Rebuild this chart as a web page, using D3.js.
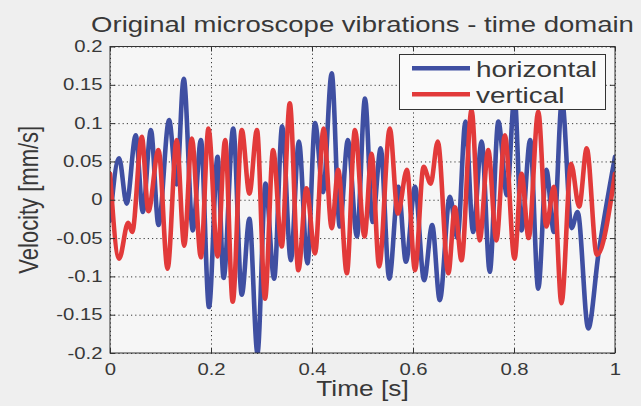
<!DOCTYPE html>
<html>
<head>
<meta charset="utf-8">
<script src="https://cdn.jsdelivr.net/npm/d3@7"></script>
<style>
  html, body { margin: 0; padding: 0; background: #efefef; }
  svg { display: block; }
  text { font-family: "Liberation Sans", Arial, sans-serif; fill: #383838; }
</style>
</head>
<body>
<script>
// horizontal velocity - peaks and troughs (t in s, v in mm/s)
var hTime = [0.000, 0.018, 0.033, 0.051, 0.065, 0.081, 0.096, 0.117, 0.132, 0.146,
             0.164, 0.180, 0.196, 0.213, 0.225, 0.244, 0.261, 0.276, 0.292, 0.308,
             0.325, 0.341, 0.358, 0.374, 0.391, 0.406, 0.422, 0.439, 0.455, 0.471,
             0.489, 0.505, 0.520, 0.536, 0.553, 0.571, 0.586, 0.604, 0.622, 0.638,
             0.653, 0.673, 0.688, 0.704, 0.719, 0.736, 0.752, 0.769, 0.786, 0.801,
             0.815, 0.832, 0.848, 0.864, 0.879, 0.895, 0.914, 0.926, 0.947, 0.967, 1.000];
var hVel  = [-0.027, 0.054, -0.005, 0.084, -0.016, 0.091, -0.033, 0.104, 0.020, 0.158,
             -0.040, 0.078, -0.140, 0.056, -0.102, 0.093, -0.124, -0.025, -0.200, 0.021,
             -0.103, 0.096, -0.079, 0.076, -0.083, 0.100, 0.010, 0.165, -0.035, 0.078,
             -0.048, 0.132, -0.029, 0.067, -0.103, 0.017, -0.081, 0.017, -0.105, -0.033,
             -0.131, 0.004, -0.050, 0.102, -0.042, 0.076, -0.094, 0.102, 0.006, 0.135,
             -0.040, 0.078, -0.116, 0.039, -0.042, 0.130, -0.037, -0.016, -0.168, -0.072, 0.056];

// vertical velocity
var vTime = [0.000, 0.018, 0.036, 0.044, 0.063, 0.076, 0.096, 0.114, 0.132, 0.147,
             0.162, 0.180, 0.195, 0.213, 0.228, 0.243, 0.261, 0.276, 0.291, 0.307,
             0.323, 0.340, 0.356, 0.373, 0.389, 0.406, 0.423, 0.439, 0.452, 0.469,
             0.485, 0.504, 0.518, 0.533, 0.554, 0.570, 0.588, 0.604, 0.621, 0.635,
             0.649, 0.670, 0.683, 0.696, 0.716, 0.732, 0.749, 0.765, 0.782, 0.801,
             0.815, 0.829, 0.848, 0.864, 0.879, 0.894, 0.913, 0.929, 0.944, 0.964, 1.000];
var vVel  = [0.034, -0.077, -0.030, -0.042, 0.082, -0.015, 0.065, -0.090, 0.078, -0.060,
             0.080, -0.075, 0.093, -0.074, 0.078, -0.133, 0.091, 0.008, 0.091, -0.129,
             0.065, -0.061, 0.126, -0.092, 0.015, -0.070, 0.093, -0.037, 0.039, -0.096,
             0.091, -0.048, 0.060, -0.087, 0.093, -0.018, 0.039, -0.092, 0.043, 0.021,
             0.076, -0.096, -0.010, -0.079, 0.117, -0.053, 0.065, -0.053, 0.084, -0.077,
             0.034, -0.050, 0.115, -0.035, 0.017, -0.135, 0.047, -0.009, 0.067, -0.072, 0.034];

var seriesNames = ["horizontal", "vertical"];
var xTicks = [0, 0.2, 0.4, 0.6, 0.8, 1];
var xTickLabels = ["0", "0.2", "0.4", "0.6", "0.8", "1"];
var yTicks = [-0.2, -0.15, -0.1, -0.05, 0, 0.05, 0.1, 0.15, 0.2];
var yTickLabels = ["-0.2", "-0.15", "-0.1", "-0.05", "0", "0.05", "0.1", "0.15", "0.2"];

var W = 641, H = 406;
var pL = 110, pR = 615, pT = 46.5, pB = 353;
var sx = 1.27;   // the picture's text is stretched sideways
var colors = ["#3f4fa2", "#e23a3a"];

var svg = d3.select("body").append("svg").attr("width", W).attr("height", H);

var x = d3.scaleLinear().domain([0, 1]).range([pL, pR]);
var y = d3.scaleLinear().domain([-0.2, 0.2]).range([pB, pT]);

// plot background
svg.append("rect")
    .attr("x", pL).attr("y", pT).attr("width", pR - pL).attr("height", pB - pT)
    .attr("fill", "#f6f6f6");

// dotted grid
var gx = svg.append("g")
    .attr("transform", "translate(0," + pB + ")")
    .call(d3.axisBottom(x).tickValues(xTicks).tickSize(-(pB - pT)).tickFormat(""));
var gy = svg.append("g")
    .attr("transform", "translate(" + pL + ",0)")
    .call(d3.axisLeft(y).tickValues(yTicks).tickSize(-(pR - pL)).tickFormat(""));
[gx, gy].forEach(function (g) {
    g.select(".domain").remove();
    g.selectAll("line").attr("stroke", "#3a3a3a").attr("stroke-width", 1).attr("stroke-dasharray", "1.2,3");
});

// lines
svg.append("clipPath").attr("id", "clip")
  .append("rect").attr("x", pL).attr("y", pT - 2).attr("width", pR - pL).attr("height", pB - pT + 2);

var line = d3.line()
    .x(function (d) { return x(d[0]); })
    .y(function (d) { return y(d[1]); })
    .curve(d3.curveMonotoneX);

var series = [d3.zip(hTime, hVel), d3.zip(vTime, vVel)];
svg.append("g").attr("clip-path", "url(#clip)")
  .selectAll("path")
  .data(series)
  .enter().append("path")
    .attr("d", line)
    .attr("fill", "none")
    .attr("stroke", function (d, i) { return colors[i]; })
    .attr("stroke-width", 4.6)
    .attr("stroke-linejoin", "round")
    .attr("stroke-linecap", "round");

// axes: ticks on all four sides pointing inward
var ax = svg.append("g")
    .attr("transform", "translate(0," + pB + ")")
    .call(d3.axisBottom(x).tickValues(xTicks).tickSize(-5).tickSizeOuter(0).tickPadding(10.6)
          .tickFormat(function (d, i) { return xTickLabels[i]; }));
var ay = svg.append("g")
    .attr("transform", "translate(" + pL + ",0)")
    .call(d3.axisLeft(y).tickValues(yTicks).tickSize(-5).tickSizeOuter(0)
          .tickFormat(function (d, i) { return yTickLabels[i]; }));
var at = svg.append("g")
    .attr("transform", "translate(0," + pT + ")")
    .call(d3.axisTop(x).tickValues(xTicks).tickSize(-5).tickSizeOuter(0).tickFormat(""));
var ar = svg.append("g")
    .attr("transform", "translate(" + pR + ",0)")
    .call(d3.axisRight(y).tickValues(yTicks).tickSize(-5).tickSizeOuter(0).tickFormat(""));
[ax, ay, at, ar].forEach(function (g) {
    g.select(".domain").remove();
    g.selectAll("line").attr("stroke", "#333");
    g.selectAll("text").attr("font-size", 16).attr("font-family", null).attr("fill", "#383838");
});
ax.selectAll("text").attr("transform", "scale(" + sx + ",1)");
ay.selectAll("text").attr("x", -7.5 / sx).attr("transform", "scale(" + sx + ",1)");

// box
svg.append("rect")
    .attr("x", pL).attr("y", pT).attr("width", pR - pL).attr("height", pB - pT)
    .attr("fill", "none").attr("stroke", "#333").attr("stroke-width", 1);

// title and labels
svg.append("text")
    .attr("transform", "translate(" + (pL + pR) / 2 + ",32) scale(" + sx * 0.985 + ",1)")
    .attr("text-anchor", "middle").attr("font-size", 22)
    .text("Original microscope vibrations - time domain");
svg.append("text")
    .attr("transform", "translate(" + (pL + pR) / 2 + ",396) scale(" + sx * 0.94 + ",1)")
    .attr("text-anchor", "middle").attr("font-size", 22)
    .text("Time [s]");
svg.append("text")
    .attr("transform", "translate(38," + (pT + pB) / 2 + ") scale(" + sx + ",1) rotate(-90)")
    .attr("text-anchor", "middle").attr("font-size", 22)
    .text("Velocity [mm/s]");

// legend
var leg = svg.append("g");
leg.append("rect")
    .attr("x", 399.5).attr("y", 54.5).attr("width", 206).attr("height", 55)
    .attr("fill", "#fafafa").attr("stroke", "#333").attr("stroke-width", 1);
var item = leg.selectAll("g.item")
    .data(seriesNames)
  .enter().append("g")
    .attr("class", "item")
    .attr("transform", function (d, i) { return "translate(0," + (68.3 + i * 26) + ")"; });
item.append("line")
    .attr("x1", 412).attr("x2", 470)
    .attr("stroke", function (d, i) { return colors[i]; })
    .attr("stroke-width", 4.6);
item.append("text")
    .attr("transform", "translate(476,8.4) scale(" + sx + ",1)")
    .attr("font-size", 22)
    .text(function (d) { return d; });
</script>
</body>
</html>
